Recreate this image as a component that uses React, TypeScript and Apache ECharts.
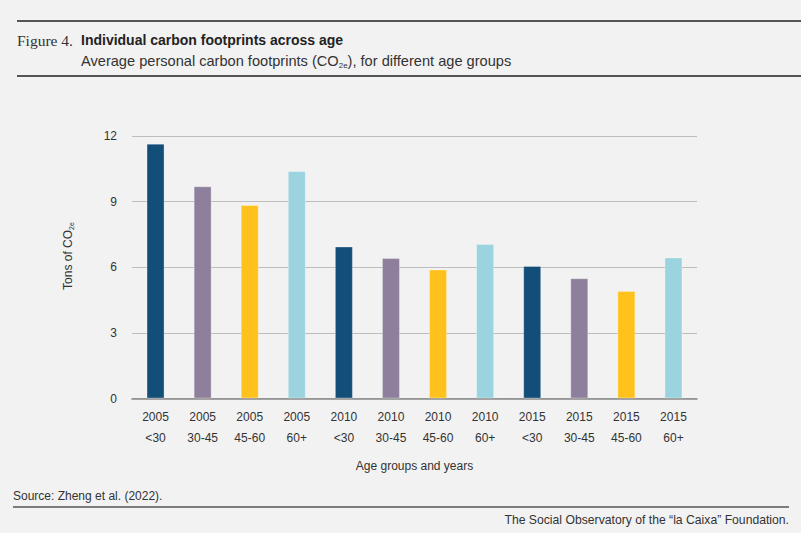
import React, { useEffect, useRef } from "react";
import * as echarts from "echarts";

const years = ["2005", "2005", "2005", "2005", "2010", "2010", "2010", "2010", "2015", "2015", "2015", "2015"];
const ageGroups = ["<30", "30-45", "45-60", "60+", "<30", "30-45", "45-60", "60+", "<30", "30-45", "45-60", "60+"];
const footprints = [11.65, 9.7, 8.85, 10.4, 6.95, 6.42, 5.9, 7.06, 6.06, 5.5, 4.92, 6.45];
const ageColors: Record<string, string> = {
  "<30": "#124e78",
  "30-45": "#8e809c",
  "45-60": "#ffc11b",
  "60+": "#9bd3de",
};
const yTicks = { min: 0, max: 12, interval: 3 };

const SANS = "'Liberation Sans', Arial, sans-serif";

export default function App() {
  const ref = useRef<HTMLDivElement>(null);
  useEffect(() => {
    if (!ref.current) return;
    const chart = echarts.init(ref.current, null, { renderer: "svg" });
    const categories = years.map((y, i) => `${y}\n${ageGroups[i]}`);
    chart.setOption({
      animation: false,
      backgroundColor: "#f2f2f2",
      textStyle: { fontFamily: SANS },
      grid: { left: 132, right: 104, top: 136, bottom: 134.5, containLabel: false },
      xAxis: {
        type: "category",
        data: categories,
        axisLine: { lineStyle: { color: "#888", width: 1.5 } },
        axisTick: { show: false },
        axisLabel: { color: "#333", fontSize: 12, lineHeight: 21, margin: 8, interval: 0, fontFamily: SANS },
        name: "Age groups and years",
        nameLocation: "middle",
        nameGap: 61,
        nameTextStyle: { color: "#333", fontSize: 12, fontFamily: SANS },
      },
      yAxis: {
        type: "value",
        min: yTicks.min,
        max: yTicks.max,
        interval: yTicks.interval,
        axisLine: { show: false },
        axisTick: { show: false },
        axisLabel: { color: "#333", fontSize: 12, margin: 15, fontFamily: SANS },
        splitLine: { lineStyle: { color: "#bdbdbd", width: 1 } },
      },
      series: [
        {
          type: "bar",
          barWidth: 18,
          data: footprints.map((v, i) => ({
            value: v,
            itemStyle: { color: ageColors[ageGroups[i]] },
          })),
          itemStyle: { borderColor: "rgba(255,255,255,0.3)", borderWidth: 1 },
        },
      ],
      graphic: [
        { type: "line", shape: { x1: 17, y1: 21, x2: 801, y2: 21 }, style: { stroke: "#555", lineWidth: 2 } },
        { type: "line", shape: { x1: 17, y1: 76, x2: 801, y2: 76 }, style: { stroke: "#555", lineWidth: 2 } },
        { type: "line", shape: { x1: 13, y1: 507, x2: 789, y2: 507 }, style: { stroke: "#555", lineWidth: 1.5 } },
        {
          type: "text",
          x: 17,
          y: 40,
          style: { text: "Figure 4.", font: "15.5px 'Liberation Serif', serif", fill: "#333", verticalAlign: "middle" },
        },
        {
          type: "text",
          x: 81,
          y: 40,
          style: { text: "Individual carbon footprints across age", font: `bold 14px ${SANS}`, fill: "#222", verticalAlign: "middle" },
        },
        {
          type: "text",
          x: 81,
          y: 61,
          style: {
            text: "Average personal carbon footprints (CO{sub|2e}), for different age groups",
            font: `14.6px ${SANS}`,
            fill: "#333",
            verticalAlign: "middle",
            rich: {
              sub: { fontSize: 8, fontFamily: SANS, fill: "#333", padding: [8, 0, 0, 0] },
            },
          },
        },
        {
          type: "text",
          x: 68,
          y: 256,
          rotation: Math.PI / 2,
          style: {
            text: "Tons of CO{sub|2e}",
            font: `12px ${SANS}`,
            fill: "#333",
            align: "center",
            verticalAlign: "middle",
            rich: {
              sub: { fontSize: 7, fontFamily: SANS, fill: "#333", padding: [7, 0, 0, 0] },
            },
          },
        },
        {
          type: "text",
          x: 13,
          y: 496,
          style: { text: "Source: Zheng et al. (2022).", font: `12px ${SANS}`, fill: "#333", verticalAlign: "middle" },
        },
        {
          type: "text",
          x: 789,
          y: 520,
          style: {
            text: "The Social Observatory of the \u201cla Caixa\u201d Foundation.",
            font: `12.2px ${SANS}`,
            fill: "#333",
            align: "right",
            verticalAlign: "middle",
          },
        },
      ],
    });
    return () => chart.dispose();
  }, []);
  return (
    <div
      ref={ref}
      style={{ position: "fixed", left: 0, top: 0, width: 801, height: 533 }}
    />
  );
}
